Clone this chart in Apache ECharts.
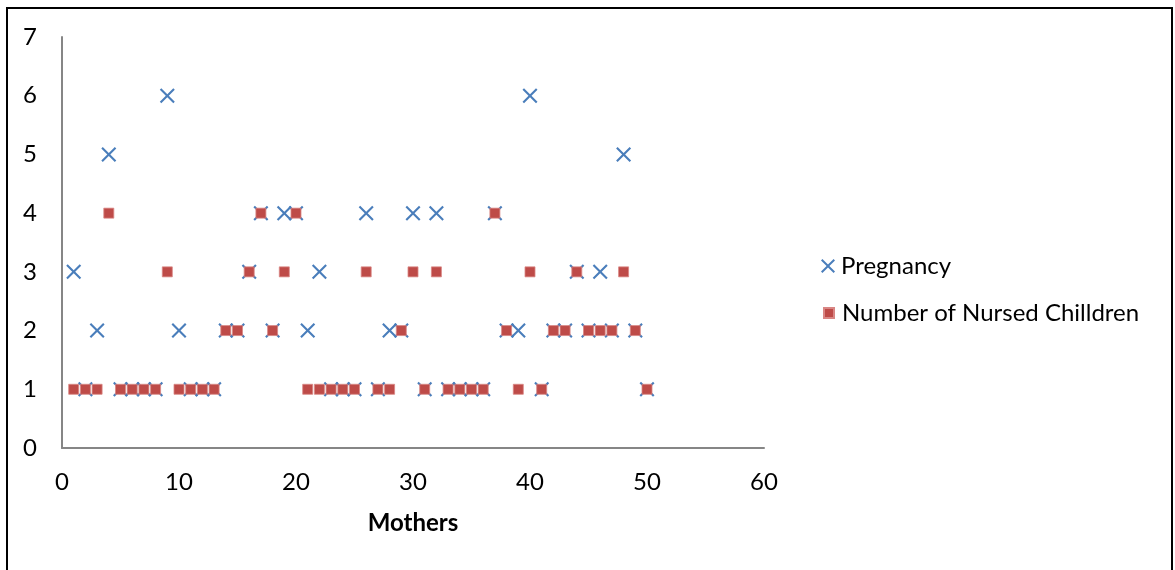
<!DOCTYPE html>
<html>
<head>
<meta charset="utf-8">
<script src="https://cdn.jsdelivr.net/npm/echarts@6/dist/echarts.min.js"></script>
<style>
  html, body { margin: 0; padding: 0; background: #fff; }
  #chart { width: 1175px; height: 570px; }
</style>
</head>
<body>
<div id="chart"></div>
<script>
// Mother index 1..50
const mothers = Array.from({ length: 50 }, (_, i) => i + 1);

// Number of pregnancies per mother
const pregnancy = [
  3, 1, 2, 5, 1, 1, 1, 1, 6, 2,
  1, 1, 1, 2, 2, 3, 4, 2, 4, 4,
  2, 3, 1, 1, 1, 4, 1, 2, 2, 4,
  1, 4, 1, 1, 1, 1, 4, 2, 2, 6,
  1, 2, 2, 3, 2, 3, 2, 5, 2, 1
];

// Number of nursed children per mother
const nursed = [
  1, 1, 1, 4, 1, 1, 1, 1, 3, 1,
  1, 1, 1, 2, 2, 3, 4, 2, 3, 4,
  1, 1, 1, 1, 1, 3, 1, 1, 2, 3,
  1, 3, 1, 1, 1, 1, 4, 2, 1, 3,
  1, 2, 2, 3, 2, 2, 2, 3, 2, 1
];

const xTicks = [0, 10, 20, 30, 40, 50, 60];
const yTicks = [0, 1, 2, 3, 4, 5, 6, 7];

const seriesNames = ['Pregnancy', 'Number of Nursed Chilldren'];

// Filled diagonal cross used as the pregnancy marker
const crossPath = 'path://M0,10 L10,0 L50,40 L90,0 L100,10 L60,50 L100,90 L90,100 L50,60 L10,100 L0,90 L40,50 Z';

const FONT = 'Lato, "Open Sans", sans-serif';
const FS = 24;
const BLUE = '#4a7ebb';
const RED = '#be4b48';

const chart = echarts.init(document.getElementById('chart'), null, { renderer: 'canvas' });

chart.setOption({
  backgroundColor: '#ffffff',
  animation: false,
  textStyle: { fontFamily: FONT },
  graphic: [{
    type: 'rect',
    silent: true,
    z: -10,
    shape: { x: 7, y: 8, width: 1165, height: 620 },
    style: { fill: 'none', stroke: '#000', lineWidth: 2 }
  }],
  grid: { left: 62, top: 37, right: 411, bottom: 122, containLabel: false },
  legend: [
    {
      data: [seriesNames[0]],
      orient: 'vertical',
      left: 821, top: 254,
      padding: 0,
      itemWidth: 14, itemHeight: 14,
      textStyle: { fontFamily: FONT, fontSize: FS, color: '#000', padding: [0, 0, 0, 1] }
    },
    {
      data: [seriesNames[1]],
      orient: 'vertical',
      left: 823, top: 301,
      padding: 0,
      itemWidth: 10, itemHeight: 10,
      textStyle: { fontFamily: FONT, fontSize: FS, color: '#000', padding: [0, 0, 0, 3] }
    }
  ],
  xAxis: {
    type: 'value',
    min: xTicks[0], max: xTicks[xTicks.length - 1], interval: 10,
    name: 'Mothers',
    nameLocation: 'middle',
    nameGap: 63,
    nameTextStyle: { fontFamily: FONT, fontSize: FS, fontWeight: 'bold', color: '#000' },
    axisLine: { show: true, onZero: false, lineStyle: { color: '#868686', width: 2 } },
    axisTick: { show: false },
    splitLine: { show: false },
    axisLabel: { margin: 22, fontFamily: FONT, fontSize: FS, color: '#000' }
  },
  yAxis: {
    type: 'value',
    min: yTicks[0], max: yTicks[yTicks.length - 1], interval: 1,
    axisLine: { show: true, lineStyle: { color: '#868686', width: 2 } },
    axisTick: { show: false },
    splitLine: { show: false },
    axisLabel: { margin: 25, fontFamily: FONT, fontSize: FS, color: '#000' }
  },
  series: [
    {
      name: seriesNames[0],
      type: 'scatter',
      symbol: crossPath,
      symbolSize: 15,
      itemStyle: { color: BLUE, opacity: 1 },
      data: mothers.map((m, i) => [m, pregnancy[i]]),
      z: 2
    },
    {
      name: seriesNames[1],
      type: 'scatter',
      symbol: 'rect',
      symbolSize: 10,
      itemStyle: { color: RED, borderColor: '#d98684', borderWidth: 0.8, opacity: 1 },
      data: mothers.map((m, i) => [m, nursed[i]]),
      z: 3
    }
  ]
});
</script>
</body>
</html>
